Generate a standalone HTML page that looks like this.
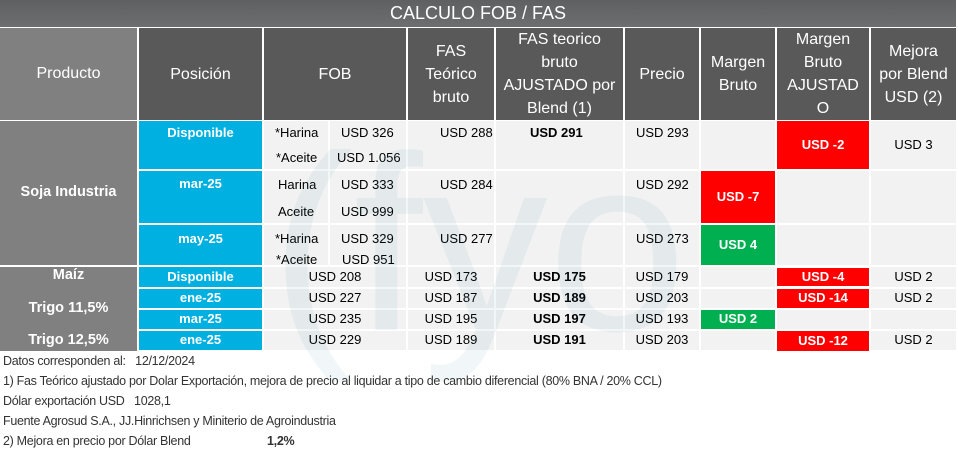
<!DOCTYPE html>
<html><head><meta charset="utf-8"><style>
body{margin:0;width:958px;height:466px;background:#fff;position:relative;overflow:hidden;font-family:"Liberation Sans",sans-serif;}
.c{position:absolute;box-sizing:border-box;display:flex;align-items:center;justify-content:center;text-align:center;font-size:13px;color:#000;line-height:1.1}
.h{background:#595959;color:#fff;font-size:16px;line-height:23px}
.p{background:#808080;color:#fff;font-size:14.5px;font-weight:bold}
.pos{background:#00b0e0;color:#fff;font-weight:bold;font-size:13px}
.d{background:#f2f2f2}
.r{background:#ff0000;color:#fff;font-weight:bold}
.g{background:#00b050;color:#fff;font-weight:bold}
.t{position:absolute;font-size:13px;white-space:nowrap;line-height:1}
.b{font-weight:bold}
.f{position:absolute;left:3px;font-size:12.5px;color:#333;white-space:nowrap;letter-spacing:-0.3px}
</style></head><body>
<div class="c" style="left:0;top:0;width:956px;height:27px;background:linear-gradient(#5f6062,#6d6e70);color:#fff;font-size:18px;">CALCULO FOB / FAS</div>
<div class="c p" style="left:0;top:28px;width:137px;height:92px;font-size:16px;font-weight:normal">Producto</div>
<div class="c h" style="left:139px;top:28px;width:123px;height:92px">Posición</div>
<div class="c h" style="left:264px;top:28px;width:142px;height:92px">FOB</div>
<div class="c h" style="left:408px;top:28px;width:86px;height:92px">FAS<br>Teórico<br>bruto</div>
<div class="c h" style="left:496px;top:28px;width:127px;height:92px">FAS teorico<br>bruto<br>AJUSTADO por<br>Blend (1)</div>
<div class="c h" style="left:625px;top:28px;width:74px;height:92px">Precio</div>
<div class="c h" style="left:701px;top:28px;width:74px;height:92px">Margen<br>Bruto</div>
<div class="c h" style="left:777px;top:28px;width:92px;height:92px">Margen<br>Bruto<br>AJUSTAD<br>O</div>
<div class="c h" style="left:871px;top:28px;width:85px;height:92px">Mejora<br>por Blend<br>USD (2)</div>
<div class="c d" style="left:264px;top:121px;width:64px;height:48px"></div>
<div class="c d" style="left:330px;top:121px;width:76px;height:48px"></div>
<div class="c d" style="left:264px;top:171px;width:64px;height:52px"></div>
<div class="c d" style="left:330px;top:171px;width:76px;height:52px"></div>
<div class="c d" style="left:264px;top:225px;width:64px;height:40px"></div>
<div class="c d" style="left:330px;top:225px;width:76px;height:40px"></div>
<div class="c d" style="left:408px;top:121px;width:86px;height:48px"></div>
<div class="c d" style="left:408px;top:171px;width:86px;height:52px"></div>
<div class="c d" style="left:408px;top:225px;width:86px;height:40px"></div>
<div class="c d" style="left:496px;top:121px;width:127px;height:48px"></div>
<div class="c d" style="left:496px;top:171px;width:127px;height:52px"></div>
<div class="c d" style="left:496px;top:225px;width:127px;height:40px"></div>
<div class="c d" style="left:625px;top:121px;width:74px;height:48px"></div>
<div class="c d" style="left:625px;top:171px;width:74px;height:52px"></div>
<div class="c d" style="left:625px;top:225px;width:74px;height:40px"></div>
<div class="c d" style="left:701px;top:121px;width:74px;height:48px"></div>
<div class="c r" style="left:701px;top:171px;width:74px;height:52px">USD -7</div>
<div class="c g" style="left:701px;top:225px;width:74px;height:40px">USD 4</div>
<div class="c r" style="left:777px;top:121px;width:92px;height:48px">USD -2</div>
<div class="c d" style="left:777px;top:171px;width:92px;height:52px"></div>
<div class="c d" style="left:777px;top:225px;width:92px;height:40px"></div>
<div class="c d" style="left:871px;top:121px;width:85px;height:48px">USD 3</div>
<div class="c d" style="left:871px;top:171px;width:85px;height:52px"></div>
<div class="c d" style="left:871px;top:225px;width:85px;height:40px"></div>
<div class="c p" style="left:0;top:121px;width:137px;height:144px">Soja Industria</div>
<div class="c pos" style="left:139px;top:121px;width:123px;height:48px;align-items:flex-start;padding-top:5px">Disponible</div>
<div class="c pos" style="left:139px;top:171px;width:123px;height:52px;align-items:flex-start;padding-top:6px">mar-25</div>
<div class="c pos" style="left:139px;top:225px;width:123px;height:40px;align-items:flex-start;padding-top:7px">may-25</div>
<div class="t" style="left:275px;top:126px">*Harina</div><div class="t" style="left:341px;top:126px">USD 326</div>
<div class="t" style="left:276px;top:151px">*Aceite</div><div class="t" style="left:337px;top:151px">USD 1.056</div>
<div class="t" style="left:278px;top:178px">Harina</div><div class="t" style="left:341px;top:178px">USD 333</div>
<div class="t" style="left:278px;top:205px">Aceite</div><div class="t" style="left:341px;top:205px">USD 999</div>
<div class="t" style="left:275px;top:232px">*Harina</div><div class="t" style="left:341px;top:232px">USD 329</div>
<div class="t" style="left:276px;top:253px">*Aceite</div><div class="t" style="left:342px;top:253px">USD 951</div>
<div class="t" style="left:440px;top:126px">USD 288</div>
<div class="t" style="left:440px;top:178px">USD 284</div>
<div class="t" style="left:440px;top:232px">USD 277</div>
<div class="t b" style="left:530px;top:126px">USD 291</div>
<div class="t" style="left:636px;top:126px">USD 293</div>
<div class="t" style="left:636px;top:178px">USD 292</div>
<div class="t" style="left:636px;top:232px">USD 273</div>
<div class="c p" style="left:0;top:267px;width:137px;height:20px;align-items:flex-start;padding-top:1px">Maíz</div>
<div class="c p" style="left:0;top:287px;width:137px;height:44px">Trigo 11,5%</div>
<div class="c p" style="left:0;top:331px;width:137px;height:20px">Trigo 12,5%</div>
<div class="c pos" style="left:139px;top:267px;width:123px;height:20px">Disponible</div>
<div class="c pos" style="left:139px;top:289px;width:123px;height:19px">ene-25</div>
<div class="c pos" style="left:139px;top:310px;width:123px;height:19px">mar-25</div>
<div class="c pos" style="left:139px;top:331px;width:123px;height:19px">ene-25</div>
<div class="c d" style="left:264px;top:267px;width:142px;height:20px">USD 208</div>
<div class="c d" style="left:264px;top:289px;width:142px;height:19px">USD 227</div>
<div class="c d" style="left:264px;top:310px;width:142px;height:19px">USD 235</div>
<div class="c d" style="left:264px;top:331px;width:142px;height:19px">USD 229</div>
<div class="c d" style="left:408px;top:267px;width:86px;height:20px">USD 173</div>
<div class="c d" style="left:408px;top:289px;width:86px;height:19px">USD 187</div>
<div class="c d" style="left:408px;top:310px;width:86px;height:19px">USD 195</div>
<div class="c d" style="left:408px;top:331px;width:86px;height:19px">USD 189</div>
<div class="c d b" style="left:496px;top:267px;width:127px;height:20px">USD 175</div>
<div class="c d b" style="left:496px;top:289px;width:127px;height:19px">USD 189</div>
<div class="c d b" style="left:496px;top:310px;width:127px;height:19px">USD 197</div>
<div class="c d b" style="left:496px;top:331px;width:127px;height:19px">USD 191</div>
<div class="c d" style="left:625px;top:267px;width:74px;height:20px">USD 179</div>
<div class="c d" style="left:625px;top:289px;width:74px;height:19px">USD 203</div>
<div class="c d" style="left:625px;top:310px;width:74px;height:19px">USD 193</div>
<div class="c d" style="left:625px;top:331px;width:74px;height:19px">USD 203</div>
<div class="c d" style="left:701px;top:267px;width:74px;height:20px"></div>
<div class="c d" style="left:701px;top:289px;width:74px;height:19px"></div>
<div class="c g" style="left:701px;top:310px;width:74px;height:19px">USD 2</div>
<div class="c d" style="left:701px;top:331px;width:74px;height:19px"></div>
<div class="c r" style="left:777px;top:268px;width:92px;height:18px">USD -4</div>
<div class="c r" style="left:777px;top:289px;width:92px;height:19px">USD -14</div>
<div class="c d" style="left:777px;top:310px;width:92px;height:19px"></div>
<div class="c r" style="left:777px;top:331px;width:92px;height:20px">USD -12</div>
<div class="c d" style="left:871px;top:267px;width:85px;height:20px">USD 2</div>
<div class="c d" style="left:871px;top:289px;width:85px;height:19px">USD 2</div>
<div class="c d" style="left:871px;top:310px;width:85px;height:19px"></div>
<div class="c d" style="left:871px;top:331px;width:85px;height:19px">USD 2</div>
<svg style="position:absolute;left:0;top:0" width="958" height="466"><text x="270" y="330" font-family="Liberation Sans" font-size="250" fill="#3a8fa8" fill-opacity="0.07">(fyo</text></svg>
<div class="f" style="top:354px">Datos corresponden al:&nbsp;&nbsp;&nbsp;12/12/2024</div>
<div class="f" style="top:374px">1) Fas Teórico ajustado por Dolar Exportación, mejora de precio al liquidar a tipo de cambio diferencial (80% BNA / 20% CCL)</div>
<div class="f" style="top:394px">Dólar exportación USD&nbsp;&nbsp;&nbsp;1028,1</div>
<div class="f" style="top:414px">Fuente Agrosud S.A., JJ.Hinrichsen y Miniterio de Agroindustria</div>
<div class="f" style="top:434px">2) Mejora en precio por Dólar Blend</div>
<div class="f" style="top:434px;left:267px;font-weight:bold">1,2%</div>
</body></html>
